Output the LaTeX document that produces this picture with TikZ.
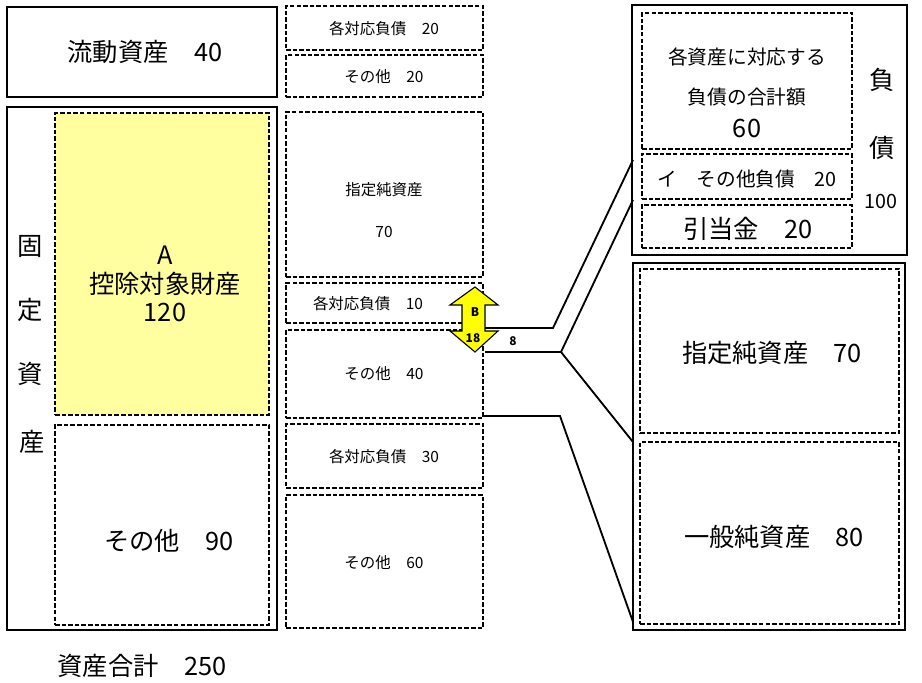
\documentclass[tikz,border=0pt]{standalone}
\usepackage{fontspec}
\setmainfont{Noto Sans CJK JP}
\usepackage{tikz}
\usetikzlibrary{fit}

\definecolor{paleyellow}{RGB}{255,255,160}
\definecolor{arrowyellow}{RGB}{255,255,0}

\tikzset{
  solidbox/.style={draw, line width=1.2pt, inner sep=0pt},
  dashbox/.style={draw, line width=1.3pt, dash pattern=on 3.2pt off 1.5pt, inner sep=0pt},
  big/.style={font=\fontsize{18}{22}\selectfont},
  mid/.style={font=\fontsize{14}{17}\selectfont},
  small/.style={font=\fontsize{11}{13}\selectfont},
  tag/.style={font=\fontsize{8.5}{10}\selectfont\bfseries},
  link/.style={line width=1.3pt}
}

\begin{document}
\begin{tikzpicture}[x=0.025cm, y=-0.025cm]
      \useasboundingbox (0,0) rectangle (922,683);
      % Assets
      \node[solidbox, fit={(7,7) (277,97)}] (current) {};
      \node[big] (currentlbl) at (145,52) {流動資産　40};
      \node[solidbox, fit={(7,107) (277,630)}] (fixed) {};
      \node[big] (fixA) at (30,247) {固};
      \node[big] (fixB) at (30,310) {定};
      \node[big] (fixC) at (30,374) {資};
      \node[big] (fixD) at (32,442) {産};
      % - deductible property
      \node[dashbox, fill=paleyellow, fit={(55,113) (269,415)}] (deduct) {};
      \node[big, align=center] (deductlbl) at (165,284) {A\\[-2pt]控除対象財産\\[-2pt]120};
      % - others
      \node[dashbox, fit={(55,425) (269,625)}] (fixother) {};
      \node[big] (fixotherlbl) at (169,541) {その他　90};
      \node[big] (total) at (142,666) {資産合計　250};

      % Breakdown column
      \node[dashbox, fit={(286,6) (483,50)}] (debt20) {};
      \node[small] (debt20lbl) at (384,29) {各対応負債　20};
      \node[dashbox, fit={(286,55) (483,97)}] (other20) {};
      \node[small] (other20lbl) at (384,77) {その他　20};
      \node[dashbox, fit={(286,112) (483,277)}] (desig) {};
      \node[small] (desiglbl) at (384,190) {指定純資産};
      \node[small] (designum) at (384,232) {70};
      \node[dashbox, fit={(286,283) (483,323)}] (debt10) {};
      \node[small] (debt10lbl) at (368,304) {各対応負債　10};
      \node[dashbox, fit={(286,330) (483,418)}] (other40) {};
      \node[small] (other40lbl) at (384,374) {その他　40};
      \node[dashbox, fit={(286,424) (483,488)}] (debt30) {};
      \node[small] (debt30lbl) at (384,457) {各対応負債　30};
      \node[dashbox, fit={(286,495) (483,628)}] (other60) {};
      \node[small] (other60lbl) at (384,563) {その他　60};

      % - B arrow
      \draw[line width=0.8pt, fill=arrowyellow] (475,287) -- (498,305) -- (485,305) -- (485,331)
        -- (498,331) -- (475,352) -- (450,331) -- (462,331) -- (462,305) -- (450,305) -- cycle;
      \node[tag] (bname) at (475,312) {B};
      \node[tag] (bnum) at (473,338) {18};
      \node[tag] (eight) at (513,341) {8};

      % Liabilities
      \node[solidbox, fit={(632,5) (907,255)}] (liab) {};
      \node[dashbox, fit={(642,13) (852,149)}] (linked) {};
      \node[mid] (linkedA) at (747,57) {各資産に対応する};
      \node[mid] (linkedB) at (747,97) {負債の合計額};
      \node[big] (linkednum) at (747,128) {60};
      \node[dashbox, fit={(642,154) (852,199)}] (odebt) {};
      \node[mid] (odebtlbl) at (747,179) {イ　その他負債　20};
      \node[dashbox, fit={(642,205) (852,248)}] (reserve) {};
      \node[big] (reservelbl) at (748,229) {引当金　20};
      \node[big] (liabA) at (882,80) {負};
      \node[big] (liabB) at (882,148) {債};
      \node[mid] (liabnum) at (881,201) {100};

      % Net assets
      \node[solidbox, fit={(633,263) (905,630)}] (net) {};
      \node[dashbox, fit={(640,269) (899,433)}] (netdesig) {};
      \node[big] (netdesiglbl) at (772,353) {指定純資産　70};
      \node[dashbox, fit={(640,442) (899,624)}] (netgen) {};
      \node[big] (netgenlbl) at (774,537) {一般純資産　80};

      % Links
      \coordinate (s1) at (485,328);
      \coordinate (k1) at (553,328);
      \coordinate (e1) at (633,160);
      \coordinate (s2) at (485,352);
      \coordinate (k2) at (561,352);
      \coordinate (e2) at (633,200);
      \coordinate (e3) at (633,442);
      \coordinate (s4) at (483,416);
      \coordinate (k4) at (560,416);
      \coordinate (e4) at (633,622);
      \draw[link] (s1) -- (k1) -- (e1);
      \draw[link] (s2) -- (k2) -- (e2);
      \draw[link] (k2) -- (e3);
      \draw[link] (s4) -- (k4) -- (e4);
\end{tikzpicture}
\end{document}
